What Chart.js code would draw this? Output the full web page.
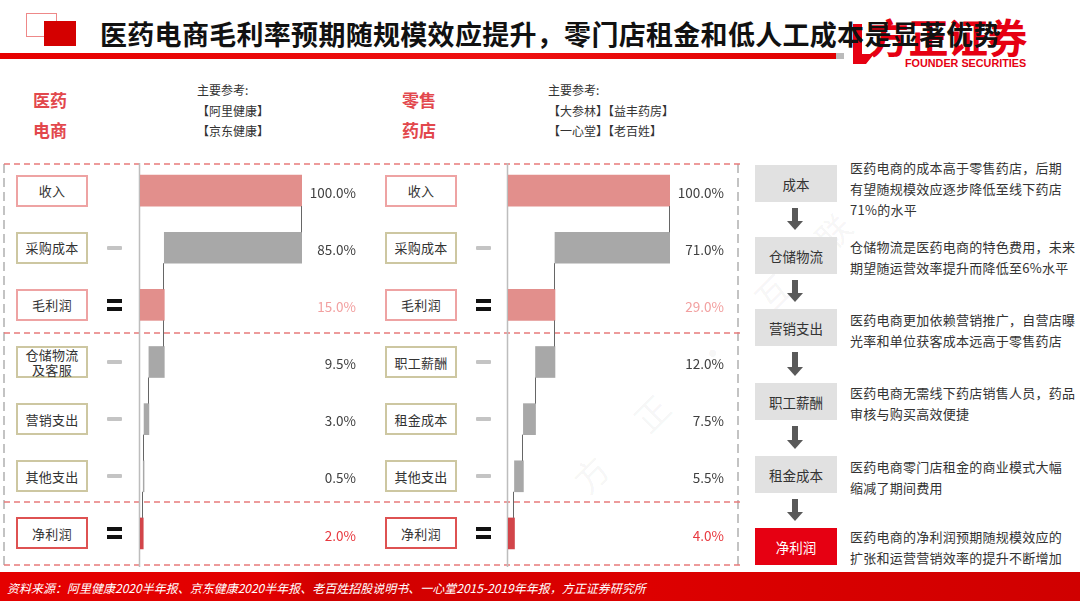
<!DOCTYPE html>
<html>
<head>
<meta charset="utf-8">
<script src="https://cdn.jsdelivr.net/npm/chart.js@4.4.0/dist/chart.umd.min.js"></script>
<style>
body{margin:0;background:#fff;font-family:"Noto Sans CJK SC","Noto Sans",sans-serif;}
#page{position:relative;width:1080px;height:601px;overflow:hidden;background:#fff;}
.abs{position:absolute;white-space:nowrap;}
.lbl{position:absolute;width:72px;height:32px;box-sizing:border-box;border:2px solid #ccc;background:#fff;
  display:flex;align-items:center;justify-content:center;text-align:center;font-size:13px;line-height:15px;color:#333;letter-spacing:0.3px;}
.minus{position:absolute;width:15px;height:4px;background:#c4c4c4;border-radius:1px;}
.eq{position:absolute;width:15px;height:4px;background:#111;}
.step{position:absolute;left:755px;width:82px;height:37px;background:#e1e1e1;display:flex;align-items:center;justify-content:center;font-size:13.5px;color:#333;}
.desc{position:absolute;left:850px;font-size:13px;line-height:21px;color:#333;letter-spacing:0.25px;white-space:nowrap;}
canvas{position:absolute;}
</style>
</head>
<body>
<div id="page">
  <!-- header -->
  <div class="abs" style="left:26px;top:13px;width:31px;height:24px;box-sizing:border-box;border:1.5px solid #ee8888;"></div>
  <div class="abs" style="left:44px;top:21px;width:32px;height:25px;background:#d40000;"></div>
  <div class="abs" style="left:0;top:53px;width:836px;height:6px;background:linear-gradient(90deg,#e60000,#ee1111 60%,#e00000);"></div>
  <div class="abs" style="left:836px;top:53px;width:8px;height:6px;background:#bbb;"></div>
  <svg class="abs" style="left:850px;top:20px;" width="40" height="50">
    <path d="M3 4 L12 4 L12 34 L24 34 L16 44 L3 44 Z" fill="#e60012"/>
  </svg>
  <div class="abs" style="left:869px;top:13px;font-size:40px;font-weight:700;color:#e60012;line-height:46px;letter-spacing:-0.5px;">方正证券</div>
  <div class="abs" style="left:905px;top:57px;font-family:'Liberation Sans',Arial,sans-serif;font-size:10.8px;font-weight:700;color:#e60012;line-height:12px;">FOUNDER SECURITIES</div>
  <div class="abs" style="left:100px;top:19px;font-size:27px;font-weight:700;color:#111;line-height:30px;letter-spacing:0.3px;">医药电商毛利率预期随规模效应提升，零门店租金和低人工成本是显著优势</div>

  <!-- section heads -->
  <div class="abs" style="left:33px;top:85px;font-size:17px;font-weight:700;color:#e2474c;line-height:30px;">医药<br>电商</div>
  <div class="abs" style="left:197px;top:80px;font-size:12px;color:#333;line-height:20.5px;">主要参考:<br>【阿里健康】<br>【京东健康】</div>
  <div class="abs" style="left:402px;top:85px;font-size:17px;font-weight:700;color:#e2474c;line-height:30px;">零售<br>药店</div>
  <div class="abs" style="left:548px;top:80px;font-size:12px;color:#333;line-height:20.5px;">主要参考:<br>【大参林】【益丰药房】<br>【一心堂】【老百姓】</div>

  <!-- watermark -->
  <div class="abs" style="left:520px;top:320px;font-size:34px;color:rgba(0,0,0,0.05);transform:rotate(-45deg);letter-spacing:22px;">方 正 · 互 联</div>

  <!-- frame -->
  <svg class="abs" style="left:0;top:0;" width="1080" height="601">
    <line x1="4" y1="164" x2="4" y2="565" stroke="#b0b0b0" stroke-width="1.5" stroke-dasharray="9,5"/>
    <line x1="738" y1="164" x2="738" y2="565" stroke="#b0b0b0" stroke-width="1.5" stroke-dasharray="9,5"/>
    <line x1="4" y1="164" x2="740" y2="164" stroke="#e77b7b" stroke-width="1.3" stroke-dasharray="6,4"/>
    <line x1="4" y1="333" x2="740" y2="333" stroke="#e77b7b" stroke-width="1.3" stroke-dasharray="6,4"/>
    <line x1="4" y1="502" x2="740" y2="502" stroke="#e77b7b" stroke-width="1.3" stroke-dasharray="6,4"/>
    <line x1="4" y1="565" x2="740" y2="565" stroke="#e77b7b" stroke-width="1.3" stroke-dasharray="6,4"/>
    <g id="arrows" fill="#595959"></g>
  </svg>

  <canvas id="leftChart" width="240" height="412" style="left:130px;top:158px;"></canvas>
  <canvas id="rightChart" width="240" height="412" style="left:498px;top:158px;"></canvas>

  <div id="rows"></div>
  <div id="steps"></div>

  <!-- footer -->
  <div class="abs" style="left:0;top:572px;width:1080px;height:29px;background:linear-gradient(90deg,#e50000,#e20000 25%,#cf0000 30%,#dd0000 60%,#d00000);"></div>
  <div class="abs" style="left:7px;top:579px;font-size:12px;font-style:italic;color:#fff;line-height:18px;">资料来源：阿里健康2020半年报、京东健康2020半年报、老百姓招股说明书、一心堂2015-2019年年报，方正证券研究所</div>
</div>

<script>
// 医药电商
var leftCats = ["收入", "采购成本", "毛利润", "仓储物流\n及客服", "营销支出", "其他支出", "净利润"];
var leftVals = [100, 85, 15, 9.5, 3.0, 0.5, 2.0];
// 零售药店
var rightCats = ["收入", "采购成本", "毛利润", "职工薪酬", "租金成本", "其他支出", "净利润"];
var rightVals = [100, 71, 29, 12, 7.5, 5.5, 4.0];
// row type: start / cost (minus) / gross (=) / net (=)
var rowKinds = ["start", "cost", "gross", "cost", "cost", "cost", "net"];

// right side flow
var stepNames = ["成本", "仓储物流", "营销支出", "职工薪酬", "租金成本", "净利润"];
var stepTexts = [
  "医药电商的成本高于零售药店，后期\n有望随规模效应逐步降低至线下药店\n71%的水平",
  "仓储物流是医药电商的特色费用，未来\n期望随运营效率提升而降低至6%水平",
  "医药电商更加依赖营销推广，自营店曝\n光率和单位获客成本远高于零售药店",
  "医药电商无需线下药店销售人员，药品\n审核与购买高效便捷",
  "医药电商零门店租金的商业模式大幅\n缩减了期间费用",
  "医药电商的净利润预期随规模效应的\n扩张和运营营销效率的提升不断增加"
];

var barColor = {start: "#e28f8c", cost: "#a8a8a8", gross: "#e28f8c", net: "#d2454a"};
var valColor = {start: "#404040", cost: "#404040", gross: "#f2a0a0", net: "#e8393f"};
var boxColor = {start: "#eea3a3", cost: "#cdc7a1", gross: "#eea3a3", net: "#de5252"};

// floating ranges for a waterfall
function waterfall(vals) {
  var run = 0, ranges = [], after = [];
  for (var i = 0; i < vals.length; i++) {
    if (rowKinds[i] === "cost") {
      ranges.push([run - vals[i], run]);
      run -= vals[i];
    } else {
      ranges.push([0, vals[i]]);
      run = vals[i];
    }
    after.push(run);
  }
  return {ranges: ranges, after: after};
}

function makeExtras(after, vals) {
  return {
    id: "extras",
    beforeDatasetsDraw: function(chart) {
      var ctx = chart.ctx, a = chart.chartArea;
      ctx.save();
      ctx.strokeStyle = "#bdbdbd";
      ctx.lineWidth = 1.5;
      ctx.beginPath();
      ctx.moveTo(a.left - 0.5, a.top + 1);
      ctx.lineTo(a.left - 0.5, a.bottom + 5);
      ctx.stroke();
      ctx.restore();
    },
    afterDatasetsDraw: function(chart) {
      var ctx = chart.ctx, xs = chart.scales.x, a = chart.chartArea;
      var bars = chart.getDatasetMeta(0).data;
      ctx.save();
      ctx.strokeStyle = "#666";
      ctx.lineWidth = 1;
      for (var i = 0; i < bars.length - 1; i++) {
        var x = Math.round(xs.getPixelForValue(after[i])) - 0.5;
        var h0 = bars[i].height || 31, h1 = bars[i + 1].height || 31;
        ctx.beginPath();
        ctx.moveTo(x, bars[i].y + h0 / 2);
        ctx.lineTo(x, bars[i + 1].y - h1 / 2);
        ctx.stroke();
      }
      ctx.font = "13.5px 'Noto Sans CJK SC', sans-serif";
      ctx.textAlign = "right";
      ctx.textBaseline = "middle";
      for (var j = 0; j < bars.length; j++) {
        ctx.fillStyle = valColor[rowKinds[j]];
        ctx.fillText(vals[j].toFixed(1) + "%", a.right + 54, bars[j].y + 2);
      }
      ctx.restore();
    }
  };
}

function buildChart(id, cats, vals, boxLeft, signLeft) {
  var wf = waterfall(vals);
  var canvas = document.getElementById(id);
  var chart = new Chart(canvas, {
    type: "bar",
    data: {
      labels: cats,
      datasets: [{
        data: wf.ranges,
        backgroundColor: rowKinds.map(function(k) { return barColor[k]; }),
        borderWidth: 0,
        barThickness: 31
      }]
    },
    options: {
      indexAxis: "y",
      responsive: false,
      animation: false,
      devicePixelRatio: 1,
      layout: {padding: {left: 10, right: 68, top: 4, bottom: 8}},
      scales: {
        x: {display: false, min: 0, max: 100},
        y: {display: false}
      },
      plugins: {legend: {display: false}, tooltip: {enabled: false}}
    },
    plugins: [makeExtras(wf.after, vals)]
  });

  // label boxes and signs, placed on the bar rows
  var top0 = parseFloat(canvas.style.top);
  var bars = chart.getDatasetMeta(0).data;
  var rows = document.getElementById("rows");
  for (var i = 0; i < cats.length; i++) {
    var cy = top0 + bars[i].y;
    var box = document.createElement("div");
    box.className = "lbl";
    box.style.left = boxLeft + "px";
    box.style.top = (cy - 16) + "px";
    box.style.borderColor = boxColor[rowKinds[i]];
    box.innerHTML = cats[i].replace("\n", "<br>");
    rows.appendChild(box);
    var k = rowKinds[i];
    if (k === "cost") {
      var m = document.createElement("div");
      m.className = "minus";
      m.style.left = signLeft + "px";
      m.style.top = (cy - 2) + "px";
      rows.appendChild(m);
    } else if (k === "gross" || k === "net") {
      [-6, 2].forEach(function(dy) {
        var e = document.createElement("div");
        e.className = "eq";
        e.style.left = signLeft + "px";
        e.style.top = (cy + dy) + "px";
        rows.appendChild(e);
      });
    }
  }
  return chart;
}

buildChart("leftChart", leftCats, leftVals, 16, 107);
buildChart("rightChart", rightCats, rightVals, 385, 476);

// flow boxes on the right
var stepTops = [165, 237, 309, 383, 456, 528];
var descTops = [157, 236, 309, 382, 456, 526];
var steps = document.getElementById("steps");
var arrows = document.getElementById("arrows");
for (var s = 0; s < stepNames.length; s++) {
  var b = document.createElement("div");
  b.className = "step";
  b.style.top = stepTops[s] + "px";
  b.textContent = stepNames[s];
  if (s === stepNames.length - 1) {
    b.style.background = "#e60012";
    b.style.color = "#fff";
  }
  steps.appendChild(b);
  var d = document.createElement("div");
  d.className = "desc";
  d.style.top = descTops[s] + "px";
  d.innerHTML = stepTexts[s].split("\n").join("<br>");
  steps.appendChild(d);
  if (s < stepNames.length - 1) {
    var y1 = stepTops[s] + 37 + 6, y2 = stepTops[s + 1] - 7;
    var ns = "http://www.w3.org/2000/svg";
    var r = document.createElementNS(ns, "rect");
    r.setAttribute("x", 792); r.setAttribute("y", y1);
    r.setAttribute("width", 6); r.setAttribute("height", y2 - y1 - 8);
    arrows.appendChild(r);
    var p = document.createElementNS(ns, "path");
    p.setAttribute("d", "M787 " + (y2 - 9) + " L803 " + (y2 - 9) + " L795 " + y2 + " Z");
    arrows.appendChild(p);
  }
}
</script>
</body>
</html>
